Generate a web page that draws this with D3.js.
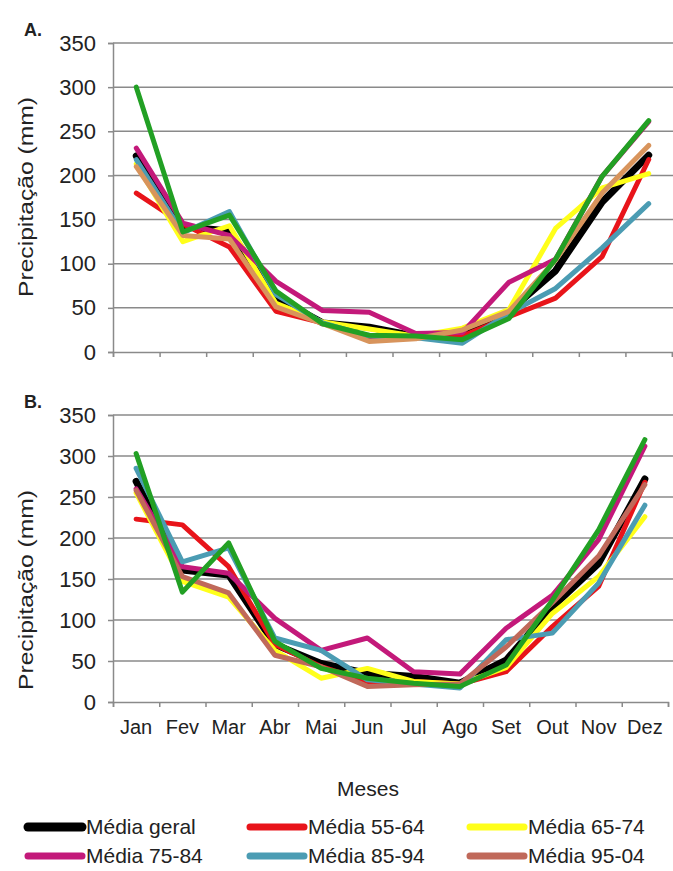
<!DOCTYPE html>
<html>
<head>
<meta charset="utf-8">
<script src="https://cdn.jsdelivr.net/npm/d3@7"></script>
<style>
  body { margin: 0; background: #fff; }
  text { font-family: "Liberation Sans", Arial, sans-serif; fill: #222; }
</style>
</head>
<body>
<div id="chart"></div>
<script>
// Months (x categories)
var months = ["Jan", "Fev", "Mar", "Abr", "Mai", "Jun", "Jul", "Ago", "Set", "Out", "Nov", "Dez"];
var yTicks = [0, 50, 100, 150, 200, 250, 300, 350];

// Series names (legend); the green series has no legend entry
var seriesNames = ["Média geral", "Média 55-64", "Média 65-74", "Média 75-84", "Média 85-94", "Média 95-04", ""];

// Panel A values (mm)
var aGeral = [222, 142, 137, 62, 33, 28, 18, 19, 46, 92, 170, 223];
var a5564  = [180, 145, 119, 46, 33, 15, 16, 18, 40, 61, 108, 218];
var a6574  = [213, 125, 143, 55, 34, 26, 18, 27, 48, 140, 186, 202];
var a7584  = [231, 146, 132, 80, 47, 45, 21, 22, 79, 105, 199, 261];
var a8594  = [218, 135, 159, 65, 33, 18, 16, 10, 44, 72, 118, 168];
var a9504  = [210, 132, 128, 51, 32, 12, 15, 25, 46, 104, 180, 234];
var aGreen = [300, 136, 155, 69, 32, 19, 18, 14, 38, 105, 199, 262];

// Panel B values (mm)
var bGeral = [269, 161, 155, 70, 47, 35, 31, 23, 51, 116, 169, 272];
var b5564  = [223, 216, 165, 70, 43, 25, 25, 22, 37, 92, 141, 268];
var b6574  = [255, 147, 128, 63, 29, 41, 25, 22, 42, 108, 153, 226];
var b7584  = [260, 165, 157, 102, 63, 78, 37, 34, 90, 130, 198, 312];
var b8594  = [285, 171, 188, 78, 63, 27, 22, 17, 76, 84, 145, 240];
var b9504  = [258, 153, 133, 57, 43, 19, 21, 22, 67, 121, 178, 265];
var bGreen = [303, 134, 194, 74, 41, 29, 23, 19, 45, 124, 210, 320];

var colors = ["#000000", "#e8141a", "#ffff1a", "#c3197a", "#4b9cb3", "#c0695a", "#22a024"];
var widths = [7, 5, 5, 5, 5, 5, 5];

var svg = d3.select("#chart").append("svg")
  .attr("width", 673)
  .attr("height", 871);

function drawPanel(series, brown, top, bottom, right, showLabels, tag, labelY) {
  var g = svg.append("g");

  var x = d3.scaleBand().domain(months).range([113, right]);
  var xt = d3.scaleLinear().domain([0, 12]).range([113, right]);
  var y = d3.scaleLinear().domain([0, 350]).range([bottom, top]);

  // Gridlines
  g.selectAll(".grid")
    .data(yTicks.slice(1))
    .enter().append("line")
    .attr("x1", 113).attr("x2", 673)
    .attr("y1", function(d) { return y(d); })
    .attr("y2", function(d) { return y(d); })
    .attr("stroke", "#8a8a8a").attr("stroke-width", 1.5);

  // Y axis
  var ya = g.append("g")
    .attr("transform", "translate(113,0)")
    .call(d3.axisLeft(y).tickValues(yTicks).tickSize(5).tickPadding(12));
  ya.selectAll("line, path").attr("stroke", "#8a8a8a").attr("stroke-width", 1.5);
  ya.selectAll("text").style("font-size", "22px").attr("fill", "#222");

  // X axis ticks at band boundaries
  var xa = g.append("g")
    .attr("transform", "translate(0," + bottom + ")")
    .call(d3.axisBottom(xt).tickValues(d3.range(13)).tickSize(5).tickFormat(""));
  xa.selectAll("line, path").attr("stroke", "#8a8a8a").attr("stroke-width", 1.5);

  if (showLabels) {
    var xl = g.append("g")
      .attr("transform", "translate(0," + bottom + ")")
      .call(d3.axisBottom(x).tickSize(0).tickPadding(18));
    xl.select("path").remove();
    xl.selectAll("text").style("font-size", "20px").attr("fill", "#222");
  }

  // Lines
  var line = d3.line()
    .x(function(d, i) { return x(months[i]) + x.bandwidth() / 2; })
    .y(function(d) { return y(d); });

  series.forEach(function(s, i) {
    g.append("path")
      .datum(s)
      .attr("d", line)
      .attr("fill", "none")
      .attr("stroke", i == 5 ? brown : colors[i])
      .attr("stroke-width", widths[i])
      .attr("stroke-linejoin", "round")
      .attr("stroke-linecap", "round");
  });

  // Panel tag
  g.append("text")
    .attr("x", 24).attr("y", top - 7)
    .style("font-size", "18px").style("font-weight", "bold")
    .text(tag);

  // Y axis label
  g.append("text")
    .attr("transform", "translate(33," + labelY + ") rotate(-90)")
    .style("text-anchor", "middle")
    .style("font-size", "20px")
    .attr("textLength", 200).attr("lengthAdjust", "spacingAndGlyphs")
    .text("Precipitação  (mm)");
}

drawPanel([aGeral, a5564, a6574, a7584, a8594, a9504, aGreen], "#d8945c", 43, 352, 672, false, "A.", 197);
drawPanel([bGeral, b5564, b6574, b7584, b8594, b9504, bGreen], "#c0695a", 415, 702, 668, true, "B.", 590);

// X axis title
svg.append("text")
  .attr("x", 368).attr("y", 796)
  .style("text-anchor", "middle")
  .style("font-size", "21px")
  .text("Meses");

// Legend
var legX = [28, 250, 470];
var legY = [827, 856];
for (var i = 0; i < 6; i++) {
  var lx = legX[i % 3], ly = legY[Math.floor(i / 3)];
  svg.append("line")
    .attr("x1", lx).attr("x2", lx + 54)
    .attr("y1", ly).attr("y2", ly)
    .attr("stroke", i == 5 ? "#c0695a" : colors[i])
    .attr("stroke-width", i == 0 ? 9 : 7)
    .attr("stroke-linecap", "round");
  svg.append("text")
    .attr("x", lx + 58).attr("y", ly + 7)
    .style("font-size", "21px")
    .text(seriesNames[i]);
}
</script>
</body>
</html>
